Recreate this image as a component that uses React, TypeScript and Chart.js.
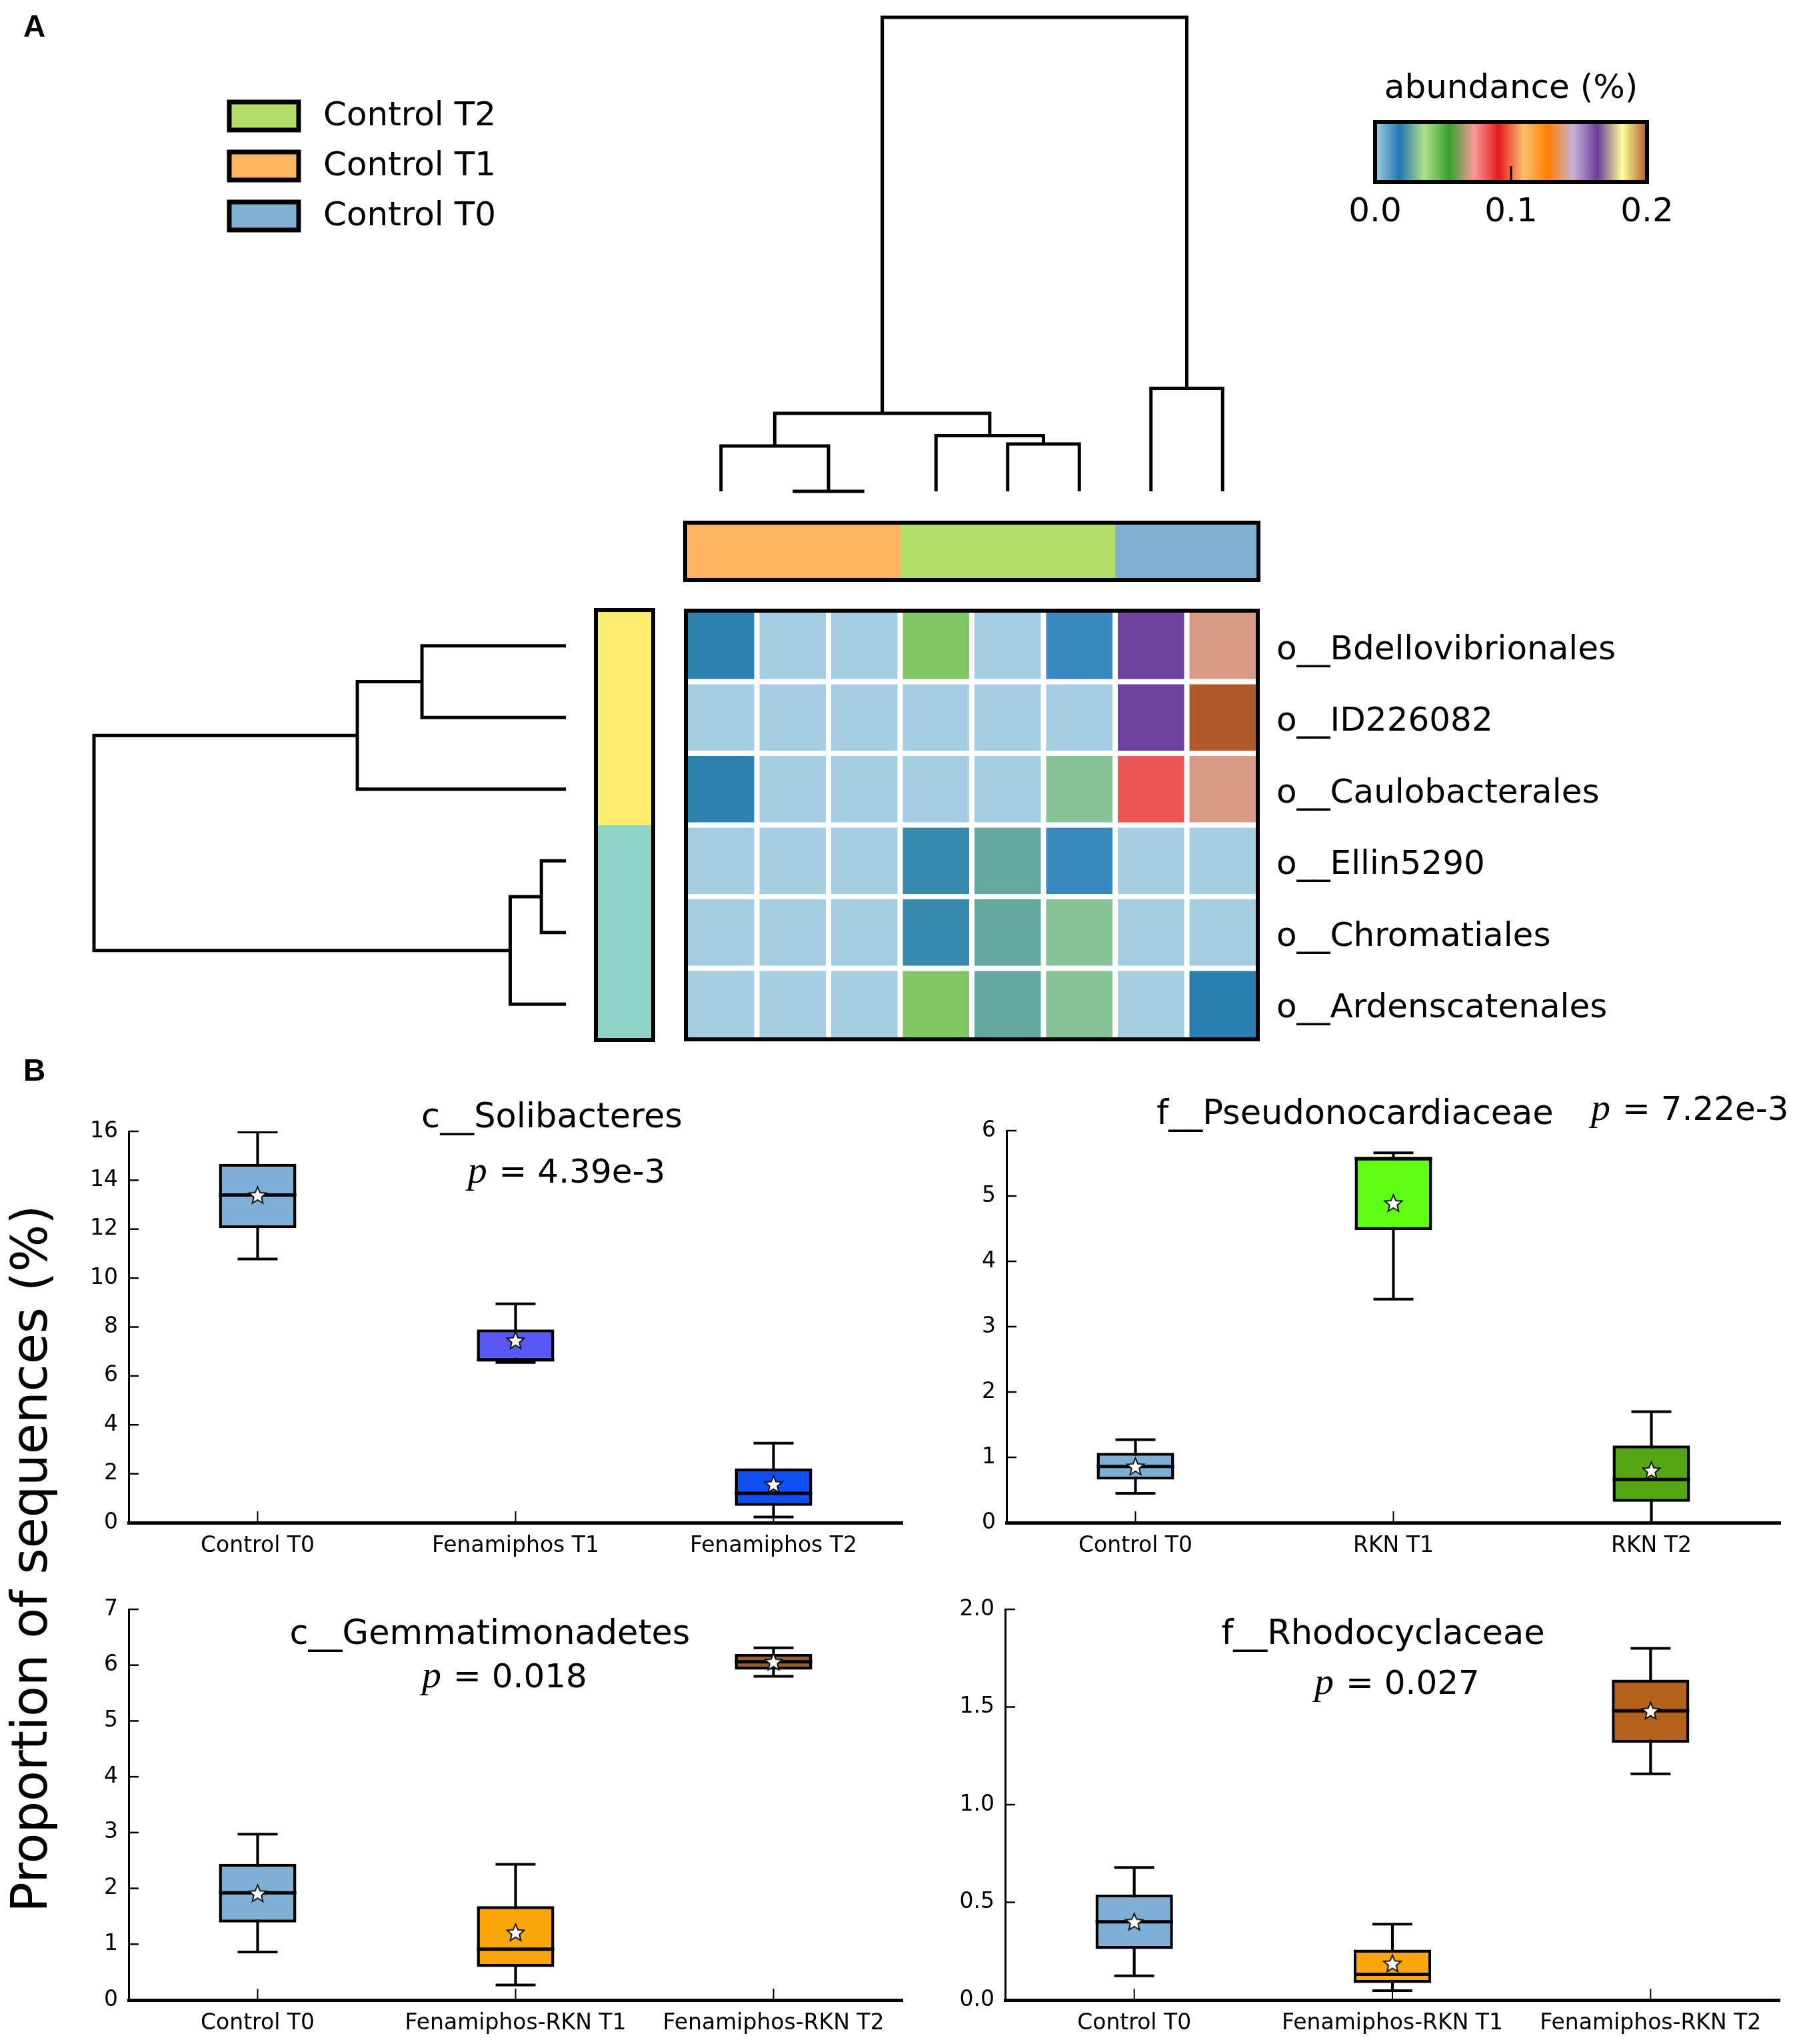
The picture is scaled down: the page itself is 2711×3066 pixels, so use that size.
import React, { useEffect, useRef } from 'react';
import { Chart, registerables } from 'chart.js';

Chart.register(...registerables);
Chart.defaults.font.family = "'DejaVu Sans', sans-serif";
Chart.defaults.color = '#000';

// ---------------- DATA ----------------
// Panel A: sample groups (column colour bar order) and legend
const sampleGroups = ['Control T1', 'Control T2', 'Control T0'];
const sampleGroupSizes = [3, 3, 2];
const sampleGroupColors = ['#fdb462', '#b3de69', '#80b1d3'];
const legendLabels = ['Control T2', 'Control T1', 'Control T0'];
const legendColors = ['#b3de69', '#fdb462', '#80b1d3'];

// Panel A: taxa (rows) and row clusters
const taxa = ['o__Bdellovibrionales', 'o__ID226082', 'o__Caulobacterales', 'o__Ellin5290', 'o__Chromatiales', 'o__Ardenscatenales'];
const taxonClusterSizes = [3, 3];
const taxonClusterColors = ['#ffed6f', '#8dd3c7'];

// abundance (%) per taxon (row) and sample (column)
const abundance = [
  [0.020, 0, 0, 0.0435, 0, 0.0145, 0.163, 0.0695],
  [0, 0, 0, 0, 0, 0, 0.163, 0.2],
  [0.020, 0, 0, 0, 0, 0.031, 0.0825, 0.0695],
  [0, 0, 0, 0.0213, 0.0267, 0.0145, 0, 0],
  [0, 0, 0, 0.0213, 0.0267, 0.031, 0, 0],
  [0, 0, 0, 0.0435, 0.0267, 0.031, 0, 0.0196],
];
const colorbarMax = 0.2;
const colorbarTicks = [0.0, 0.1, 0.2];
const pairedColors = ['#a6cee3', '#1f78b4', '#b2df8a', '#33a02c', '#fb9a99', '#e31a1c', '#fdbf6f', '#ff7f00', '#cab2d6', '#6a3d9a', '#ffff99', '#b15928'];

// dendrograms: node = [left, right, height]; a leaf is its index
const colTree: any = [[[0, [1, 2, 0.0], 0.0957], [3, [4, 5, 0.0998], 0.1176], 0.1646], [6, 7, 0.2174], 1.0];
const rowTree: any = [[[0, 1, 0.305], 2, 0.442], [[3, 4, 0.052], 5, 0.118], 1.0];

// Panel B: c__Solibacteres
const solCategories = ['Control T0', 'Fenamiphos T1', 'Fenamiphos T2'];
const solMin = [10.78, 6.55, 0.23];
const solQ1 = [12.04, 6.62, 0.69];
const solMedian = [13.40, 6.66, 1.20];
const solQ3 = [14.67, 7.90, 2.22];
const solMax = [15.97, 8.95, 3.25];
const solMean = [13.39, 7.45, 1.57];
const solColors = ['#7eb0d5', '#5858f6', '#0d4ff0'];

// Panel B: f__Pseudonocardiaceae
const pseCategories = ['Control T0', 'RKN T1', 'RKN T2'];
const pseMin = [0.45, 3.42, 0.0];
const pseQ1 = [0.66, 4.48, 0.32];
const pseMedian = [0.86, 5.57, 0.66];
const pseQ3 = [1.07, 5.60, 1.18];
const pseMax = [1.27, 5.66, 1.70];
const pseMean = [0.86, 4.89, 0.80];
const pseColors = ['#7eb0d5', '#5fff14', '#55a614'];

// Panel B: c__Gemmatimonadetes
const gemCategories = ['Control T0', 'Fenamiphos-RKN T1', 'Fenamiphos-RKN T2'];
const gemMin = [0.86, 0.27, 5.80];
const gemQ1 = [1.39, 0.59, 5.92];
const gemMedian = [1.92, 0.91, 6.06];
const gemQ3 = [2.44, 1.68, 6.20];
const gemMax = [2.97, 2.43, 6.31];
const gemMean = [1.91, 1.21, 6.06];
const gemColors = ['#7eb0d5', '#fba70b', '#9b5b32'];

// Panel B: f__Rhodocyclaceae
const rhoCategories = ['Control T0', 'Fenamiphos-RKN T1', 'Fenamiphos-RKN T2'];
const rhoMin = [0.124, 0.048, 1.158];
const rhoQ1 = [0.261, 0.087, 1.317];
const rhoMedian = [0.40, 0.131, 1.48];
const rhoQ3 = [0.54, 0.258, 1.64];
const rhoMax = [0.678, 0.388, 1.80];
const rhoMean = [0.40, 0.187, 1.48];
const rhoColors = ['#7eb0d5', '#fba70b', '#b5601b'];

const panelTitles = ['c__Solibacteres', 'f__Pseudonocardiaceae', 'c__Gemmatimonadetes', 'f__Rhodocyclaceae'];
const panelPValues = ['4.39e-3', '7.22e-3', '0.018', '0.027'];
const panelYMax = [16, 6, 7, 2.0];
const panelYStep = [2, 1, 1, 0.5];
const panelYDecimals = [0, 0, 0, 1];

// ---------------- helpers ----------------
function hexToRgb(h: string) {
  const n = parseInt(h.slice(1), 16);
  return [(n >> 16) & 255, (n >> 8) & 255, n & 255];
}
function cmap(v: number) {
  const t = Math.max(0, Math.min(1, v / colorbarMax)) * (pairedColors.length - 1);
  const i = Math.min(pairedColors.length - 2, Math.floor(t));
  const f = t - i;
  const a = hexToRgb(pairedColors[i]);
  const b = hexToRgb(pairedColors[i + 1]);
  const c = a.map((x, k) => Math.round(x + (b[k] - x) * f));
  return `rgb(${c[0]},${c[1]},${c[2]})`;
}

function dendroSegments(tree: any, horizontal: boolean) {
  const segs: number[][][] = [];
  function walk(node: any): { pos: number; h: number } {
    if (typeof node === 'number') return { pos: node, h: 0 };
    const l = walk(node[0]);
    const r = walk(node[1]);
    const h = node[2];
    const u = [[l.pos, l.h], [l.pos, h], [r.pos, h], [r.pos, r.h]];
    segs.push(horizontal ? u.map(([p, d]) => [d, p]) : u);
    return { pos: (l.pos + r.pos) / 2, h };
  }
  walk(tree);
  return segs;
}

function makeStar(size: number) {
  const c = document.createElement('canvas');
  c.width = size;
  c.height = size;
  const g = c.getContext('2d')!;
  const cx = size / 2, cy = size / 2 + 1, R = size / 2 - 2, r = R * 0.45;
  g.beginPath();
  for (let k = 0; k < 10; k++) {
    const a = -Math.PI / 2 + (k * Math.PI) / 5;
    const rr = k % 2 === 0 ? R : r;
    g.lineTo(cx + rr * Math.cos(a), cy + rr * Math.sin(a));
  }
  g.closePath();
  g.fillStyle = '#fff';
  g.fill();
  g.lineWidth = 2;
  g.strokeStyle = '#111';
  g.stroke();
  return c;
}

const base: any = {
  responsive: false,
  animation: false,
  devicePixelRatio: 1,
  events: [],
  plugins: { legend: { display: false }, tooltip: { enabled: false }, title: { display: false } },
};

const framePlugin = (lw: number, inset: number) => ({
  id: 'frame',
  afterDraw(chart: any) {
    const { ctx, chartArea: a } = chart;
    ctx.save();
    ctx.strokeStyle = '#000';
    ctx.lineWidth = lw;
    ctx.strokeRect(a.left + inset, a.top + inset, a.right - a.left - 2 * inset, a.bottom - a.top - 2 * inset);
    ctx.restore();
  },
});

const overlayPlugin = {
  id: 'overlay',
  afterDraw(chart: any) {
    const ctx = chart.ctx;
    ctx.save();
    ctx.fillStyle = '#000';
    ctx.textBaseline = 'alphabetic';
    ctx.font = "bold 46px 'Liberation Sans'";
    ctx.fillText('A', 35, 55);
    ctx.fillText('B', 35, 1621);
    legendLabels.forEach((lab, i) => {
      const y = 153 + i * 75;
      ctx.fillStyle = legendColors[i];
      ctx.fillRect(344, y, 104, 42);
      ctx.lineWidth = 7;
      ctx.strokeStyle = '#000';
      ctx.strokeRect(344, y, 104, 42);
      ctx.fillStyle = '#000';
      ctx.font = "50px 'DejaVu Sans'";
      ctx.textBaseline = 'middle';
      ctx.fillText(lab, 485, y + 22);
    });
    ctx.translate(70, 2338);
    ctx.rotate(-Math.PI / 2);
    ctx.textAlign = 'center';
    ctx.textBaseline = 'alphabetic';
    ctx.font = "75px 'DejaVu Sans'";
    ctx.fillText('Proportion of sequences (%)', 0, 0);
    ctx.restore();
  },
};

const gradientPlugin = {
  id: 'gradientBar',
  beforeDatasetsDraw(chart: any) {
    const { ctx, chartArea: a } = chart;
    const g = ctx.createLinearGradient(a.left, 0, a.right, 0);
    pairedColors.forEach((c, i) => g.addColorStop(i / (pairedColors.length - 1), c));
    ctx.save();
    ctx.fillStyle = g;
    ctx.fillRect(a.left, a.top, a.right - a.left, a.bottom - a.top);
    ctx.restore();
  },
  afterDraw(chart: any) {
    const { ctx, chartArea: a } = chart;
    const xs = chart.scales.x;
    ctx.save();
    ctx.strokeStyle = '#000';
    ctx.lineWidth = 3;
    colorbarTicks.forEach((v) => {
      const px = xs.getPixelForValue(v);
      ctx.beginPath();
      ctx.moveTo(px, a.bottom);
      ctx.lineTo(px, a.bottom - 24);
      ctx.stroke();
    });
    ctx.lineWidth = 6;
    ctx.strokeRect(a.left, a.top, a.right - a.left, a.bottom - a.top);
    ctx.restore();
  },
};

const inwardTicks = {
  id: 'inwardTicks',
  afterDraw(chart: any) {
    const { ctx, chartArea: a } = chart;
    const ys = chart.scales.y, xs = chart.scales.x;
    ctx.save();
    ctx.strokeStyle = '#000';
    ctx.lineWidth = 2.5;
    ys.ticks.forEach((t: any) => {
      const py = ys.getPixelForValue(t.value);
      ctx.beginPath();
      ctx.moveTo(a.left, py);
      ctx.lineTo(a.left + 15, py);
      ctx.stroke();
    });
    ctx.lineWidth = 2;
    xs.ticks.forEach((_t: any, i: number) => {
      const px = xs.getPixelForTick(i);
      ctx.beginPath();
      ctx.moveTo(px, a.bottom);
      ctx.lineTo(px, a.bottom - 17);
      ctx.stroke();
    });
    ctx.restore();
  },
};

const panelText = {
  id: 'panelText',
  afterDraw(chart: any, _args: any, opts: any) {
    const { ctx, chartArea } = chart;
    const { left, top } = chartArea;
    ctx.save();
    ctx.fillStyle = '#000';
    ctx.textBaseline = 'alphabetic';
    ctx.font = "51px 'DejaVu Sans'";
    ctx.textAlign = 'center';
    ctx.fillText(opts.title, left + opts.titleDx, top + opts.titleDy);
    const pFont = "italic 58px 'Liberation Serif'";
    const restFont = "50px 'DejaVu Sans'";
    const rest = ' = ' + opts.p;
    ctx.font = pFont;
    const wp = ctx.measureText('p').width;
    ctx.font = restFont;
    const wr = ctx.measureText(rest).width;
    const x0 = opts.pAlign === 'left' ? left + opts.pDx : left + opts.pDx - (wp + wr) / 2;
    ctx.textAlign = 'left';
    ctx.font = pFont;
    ctx.fillText('p', x0, top + opts.pDy);
    ctx.font = restFont;
    ctx.fillText(rest, x0 + wp + 2, top + opts.pDy);
    ctx.restore();
  },
};

// ---------------- chart configs ----------------
function overlayConfig() {
  return {
    type: 'scatter',
    data: { datasets: [] },
    options: { ...base, layout: { autoPadding: false }, scales: { x: { display: false }, y: { display: false } } },
    plugins: [overlayPlugin],
  };
}

function colorbarConfig() {
  return {
    type: 'scatter',
    data: { datasets: [] },
    options: {
      ...base,
      layout: { autoPadding: false, padding: { left: 81, right: 81, top: 0, bottom: 27 } },
      plugins: {
        ...base.plugins,
        title: { display: true, text: 'abundance (%)', color: '#000', font: { size: 50, weight: 'normal' }, padding: { top: 14, bottom: 19 } },
      },
      scales: {
        x: {
          type: 'linear', min: 0, max: colorbarMax,
          grid: { display: false, drawTicks: false }, border: { display: false },
          ticks: { font: { size: 50 }, color: '#000', padding: 16, callback: (v: number) => Number(v).toFixed(1) },
          afterBuildTicks: (s: any) => { s.ticks = colorbarTicks.map((v) => ({ value: v })); },
          afterFit: (s: any) => { s.height = 90; },
        },
        y: { display: false },
      },
    },
    plugins: [gradientPlugin],
  };
}

function dendroConfig(tree: any, horizontal: boolean) {
  const segs = dendroSegments(tree, horizontal);
  const n = horizontal ? taxa.length : abundance[0].length;
  return {
    type: 'scatter',
    data: {
      datasets: segs.map((s) => ({
        data: s.map(([x, y]) => ({ x, y })),
        showLine: true, borderColor: '#000', borderWidth: 5, pointRadius: 0,
        clip: false, borderJoinStyle: 'miter', borderCapStyle: 'butt',
      })),
    },
    options: {
      ...base,
      layout: { autoPadding: false, padding: 20 },
      scales: horizontal
        ? { x: { type: 'linear', display: false, min: 0, max: 1, reverse: true }, y: { type: 'linear', display: false, min: -0.5, max: n - 0.5, reverse: true } }
        : { x: { type: 'linear', display: false, min: -0.5, max: n - 0.5 }, y: { type: 'linear', display: false, min: 0, max: 1 } },
    },
  };
}

function colBarConfig() {
  return {
    type: 'bar',
    data: {
      labels: [''],
      datasets: sampleGroups.map((g, i) => ({ label: g, data: [sampleGroupSizes[i]], backgroundColor: sampleGroupColors[i], borderWidth: 0, barPercentage: 1, categoryPercentage: 1 })),
    },
    options: {
      ...base, indexAxis: 'y', layout: { autoPadding: false, padding: 20 },
      scales: { x: { stacked: true, min: 0, max: abundance[0].length, display: false }, y: { stacked: true, display: false } },
    },
    plugins: [framePlugin(6, 0)],
  };
}

function rowBarConfig() {
  return {
    type: 'bar',
    data: {
      labels: [''],
      datasets: taxonClusterSizes.map((c, i) => ({ data: [c], backgroundColor: taxonClusterColors[i], borderWidth: 0, barPercentage: 1, categoryPercentage: 1 })),
    },
    options: {
      ...base, layout: { autoPadding: false, padding: 20 },
      scales: { x: { stacked: true, display: false }, y: { stacked: true, min: 0, max: taxa.length, reverse: true, display: false } },
    },
    plugins: [framePlugin(6, 0)],
  };
}

function heatmapConfig() {
  return {
    type: 'bar',
    data: {
      labels: taxa,
      datasets: abundance[0].map((_c, j) => ({
        data: taxa.map(() => 1),
        backgroundColor: taxa.map((_t, i) => cmap(abundance[i][j])),
        borderColor: '#ffffff', borderWidth: 4, borderSkipped: false,
        barPercentage: 1, categoryPercentage: 1, inflateAmount: 0,
      })),
    },
    options: {
      ...base, indexAxis: 'y',
      layout: { autoPadding: false, padding: { left: 20, top: 80, bottom: 80, right: 0 } },
      scales: {
        x: { type: 'linear', stacked: true, min: 0, max: abundance[0].length, display: false },
        y: {
          type: 'category', stacked: true, position: 'right',
          grid: { display: false, drawTicks: false }, border: { display: false },
          ticks: { font: { size: 50 }, color: '#000', padding: 27, labelOffset: 7 },
          afterFit: (s: any) => { s.width = 620; },
        },
      },
    },
    plugins: [framePlugin(6, 1)],
  };
}

function boxConfig(k: number, cats: string[], mn: number[], q1: number[], md: number[], q3: number[], mx: number[], mean: number[], colors: string[], textOpts: any) {
  const star = makeStar(31);
  const pointLine = (data: number[], r: number, w: number, order: number) => ({
    type: 'line', data, showLine: false, pointStyle: 'line', pointRadius: r, pointBorderWidth: w,
    pointBorderColor: '#000', borderColor: '#000', order,
  });
  return {
    type: 'bar',
    data: {
      labels: cats,
      datasets: [
        { type: 'line', data: mean, showLine: false, pointStyle: star, pointRadius: 12, order: 0 },
        pointLine(md, 58, 5, 1),
        pointLine(mn, 30, 4, 2),
        pointLine(mx, 30, 4, 2),
        {
          type: 'bar', data: q1.map((v, i) => [v, q3[i]]), backgroundColor: colors, borderColor: '#000',
          borderWidth: 4.5, borderSkipped: false, grouped: false, barPercentage: 0.3, categoryPercentage: 1, order: 3,
        },
        { type: 'bar', data: mn.map((v, i) => [v, mx[i]]), backgroundColor: '#000', barThickness: 3.5, grouped: false, order: 4 },
      ],
    },
    options: {
      ...base,
      layout: { autoPadding: false, padding: { left: 60, top: 150, right: 40, bottom: 0 } },
      plugins: { ...base.plugins, panelText: textOpts },
      scales: {
        x: {
          grid: { display: false, drawTicks: false }, border: { display: true, width: 5, color: '#000' },
          ticks: { font: { size: 33 }, color: '#000', padding: 16, autoSkip: false, maxRotation: 0 },
          afterFit: (s: any) => { s.height = 66; },
        },
        y: {
          min: 0, max: panelYMax[k],
          grid: { display: false, drawTicks: false }, border: { display: true, width: 3, color: '#000' },
          ticks: { stepSize: panelYStep[k], font: { size: 33 }, color: '#000', padding: 16, callback: (v: number) => Number(v).toFixed(panelYDecimals[k]) },
          afterFit: (s: any) => { s.width = 120; },
        },
      },
    },
    plugins: [inwardTicks, panelText],
  };
}

// ---------------- components ----------------
function ChartBox({ x, y, w, h, make }: { x: number; y: number; w: number; h: number; make: () => any }) {
  const ref = useRef<HTMLCanvasElement>(null);
  useEffect(() => {
    const chart = new Chart(ref.current as HTMLCanvasElement, make());
    return () => chart.destroy();
  }, []);
  return <canvas ref={ref} width={w} height={h} style={{ position: 'absolute', left: x, top: y, width: w, height: h }} />;
}

export default function App() {
  useEffect(() => {
    document.body.style.margin = '0';
    document.body.style.background = '#fff';
  }, []);
  const t = (i: number, titleDx: number, titleDy: number, pDx: number, pDy: number, pAlign: string) => ({
    title: panelTitles[i], p: panelPValues[i], titleDx, titleDy, pDx, pDy, pAlign,
  });
  return (
    <div style={{ position: 'absolute', left: 0, top: 0, width: 2711, height: 3066, overflow: 'hidden', background: '#fff' }}>
      <ChartBox x={0} y={0} w={2711} h={3066} make={overlayConfig} />
      <ChartBox x={1982} y={90} w={570} h={300} make={colorbarConfig} />
      <ChartBox x={1008} y={6} w={900} h={751} make={() => dendroConfig(colTree, false)} />
      <ChartBox x={1008} y={764} w={900} h={126} make={colBarConfig} />
      <ChartBox x={121} y={895} w={748} h={685} make={() => dendroConfig(rowTree, true)} />
      <ChartBox x={874} y={895} w={126} h={685} make={rowBarConfig} />
      <ChartBox x={1008} y={835} w={1500} h={805} make={heatmapConfig} />
      <ChartBox x={13} y={1547} w={1381} h={803} make={() => boxConfig(0, solCategories, solMin, solQ1, solMedian, solQ3, solMax, solMean, solColors, t(0, 635, -6, 656, 77, 'center'))} />
      <ChartBox x={1330} y={1546} w={1381} h={804} make={() => boxConfig(1, pseCategories, pseMin, pseQ1, pseMedian, pseQ3, pseMax, pseMean, pseColors, t(1, 523, -10, 877, -16, 'left'))} />
      <ChartBox x={13} y={2264} w={1381} h={802} make={() => boxConfig(2, gemCategories, gemMin, gemQ1, gemMedian, gemQ3, gemMax, gemMean, gemColors, t(2, 542, 52, 563, 117, 'center'))} />
      <ChartBox x={1328} y={2264} w={1382} h={802} make={() => boxConfig(3, rhoCategories, rhoMin, rhoQ1, rhoMedian, rhoQ3, rhoMax, rhoMean, rhoColors, t(3, 567, 52, 587, 127, 'center'))} />
    </div>
  );
}
